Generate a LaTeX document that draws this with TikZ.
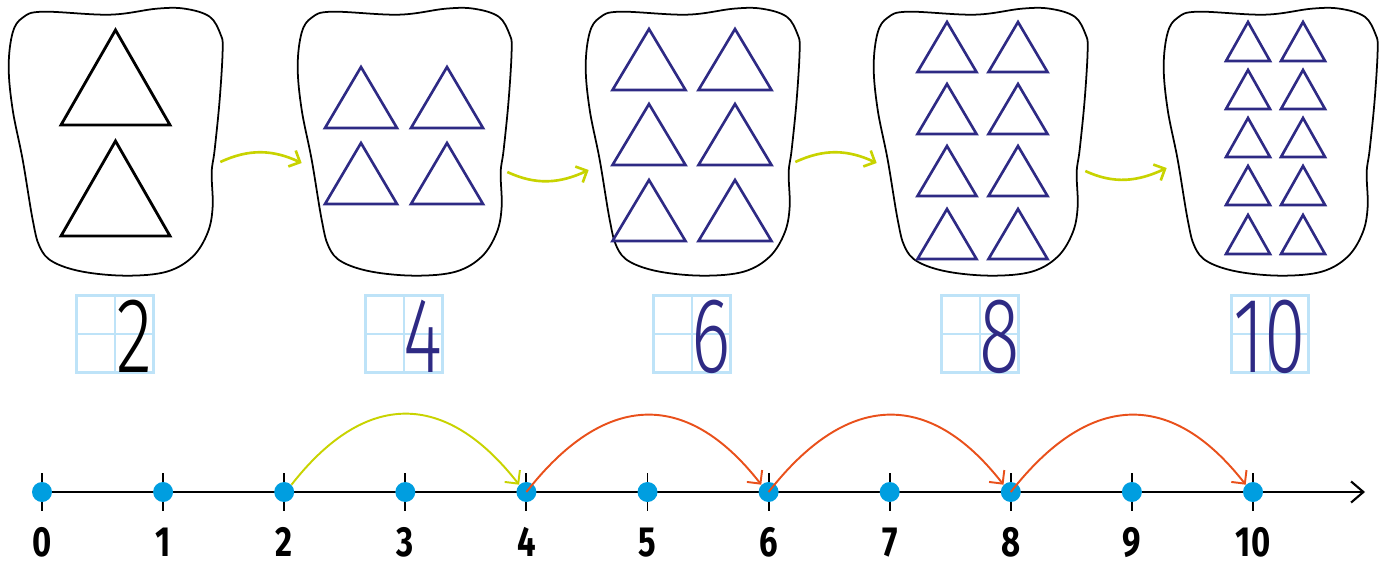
\documentclass[tikz,border=0pt]{standalone}
\usepackage{fontspec}
\usepackage{xcolor}
\usepackage{tikz}
\usetikzlibrary{arrows.meta, positioning}

\newfontfamily\handfont[FakeStretch=0.7]{Fira Sans Light}
\newfontfamily\axisfont[FakeStretch=0.78]{Fira Sans}

\definecolor{navy}{HTML}{2E2A84}
\definecolor{limegreen}{HTML}{C8D300}
\definecolor{jumporange}{HTML}{E9501B}
\definecolor{dotblue}{HTML}{009EE0}
\definecolor{gridblue}{HTML}{BEE3F8}

\begin{document}
\begin{tikzpicture}[
    x=0.02cm, y=-0.02cm,
    blobbox/.style={rectangle, minimum width=4.28cm, minimum height=5.36cm, inner sep=0pt},
    blobline/.style={draw=black, line width=1pt},
    blacktri/.style={draw=black, line width=1.6pt},
    navytri/.style={draw=navy, line width=1.5pt},
    gridbox/.style={rectangle, draw=gridblue, line width=1.4pt, minimum size=1.54cm, inner sep=0pt},
    gridline/.style={draw=gridblue, line width=1.4pt},
    hand/.style={inner sep=0pt, anchor=base, font=\handfont\fontsize{61}{61}\selectfont},
    bloblink/.style={draw=limegreen, line width=1.5pt, -{Straight Barb[length=5pt, width=10pt]}},
    hoparc/.style={line width=1.1pt, -{Straight Barb[length=5.5pt, width=11pt]}},
    axis/.style={draw=black, line width=1.2pt, -{Straight Barb[length=7pt, width=12pt]}},
    tick/.style={draw=black, line width=1.1pt},
    dot/.style={circle, fill=dotblue, minimum size=0.4cm, inner sep=0pt},
    numlabel/.style={inner sep=0pt, anchor=base, font=\axisfont\bfseries\fontsize{24}{24}\selectfont},
  ]
    \useasboundingbox (0,0) rectangle (1383,562);

    % Blobs
    \foreach \i/\x in {1/115,2/404,3/692,4/980,5/1270}
      \node[blobbox] (b\i) at (\x,142) {};
    \foreach \i in {1,...,5}
      \draw[blobline, shift={(b\i.north west)}] plot[smooth cycle, tension=0.6] coordinates {
        (35,4) (102,7) (149,1) (177,1) (202,9) (213,27) (215,42) (212,92) (207,142)
        (204,165) (205,199) (200,225) (185,249) (159,264) (119,268) (75,264) (45,254)
        (32,239) (25,212) (15,152) (5,102) (1,59) (5,25) (15,10)};

    % Triangles
    \foreach \ay in {30,141}
      \draw[blacktri] (115.5,\ay) -- ++(54.5,95) -- ++(-109,0) -- cycle;
    \foreach \cx in {361,447} \foreach \ay in {67,143}
      \draw[navytri] (\cx,\ay) -- ++(36,61) -- ++(-72,0) -- cycle;
    \foreach \cx in {649,735} \foreach \ay in {29,104,180}
      \draw[navytri] (\cx,\ay) -- ++(36.5,61) -- ++(-73,0) -- cycle;
    \foreach \cx in {947,1018} \foreach \ay in {22,84,146,209}
      \draw[navytri] (\cx,\ay) -- ++(29.5,50) -- ++(-59,0) -- cycle;
    \foreach \cx in {1248,1303} \foreach \ay in {22,70,118,166,215}
      \draw[navytri] (\cx,\ay) -- ++(22,39) -- ++(-44,0) -- cycle;

    % Arrows between blobs
    \draw[bloblink] ([shift={(-2,20)}]b1.east) to[out=25, in=155] ([shift={(5,21)}]b2.west);
    \draw[bloblink] ([shift={(-4,30)}]b2.east) to[out=-25, in=-155] ([shift={(4,28)}]b3.west);
    \draw[bloblink] ([shift={(-4,20)}]b3.east) to[out=25, in=155] ([shift={(4,21)}]b4.west);
    \draw[bloblink] ([shift={(-2,29)}]b4.east) to[out=-25, in=-155] ([shift={(4,26)}]b5.west);

    % Digit boxes
    \foreach \i in {1,...,5} {
      \node[gridbox, below=0.36cm of b\i] (g\i) {};
      \draw[gridline] (g\i.north) -- (g\i.south) (g\i.west) -- (g\i.east);
    }
    \foreach \i/\v/\c in {1/2/black,2/4/navy,3/6/navy,4/8/navy}
      \node[hand, text=\c] (h\i) at ([xshift=0.385cm, yshift=0.6pt]g\i.south) {\v};
    \node[hand, text=navy] (h5) at ([yshift=0.6pt]g5.south) {10};

    % Number line
    \coordinate (axstart) at (42,492);
    \coordinate (axend) at (1365,492);
    \draw[axis] (axstart) -- (axend);
    \foreach \i in {0,...,10} {
      \draw[tick] (42+121.1*\i,473) -- (42+121.1*\i,511);
      \node[dot] (d\i) at (42+121.1*\i,492) {};
      \node[numlabel] (n\i) at (42+121.1*\i,556) {\i};
    }

    % Jumps
    \draw[hoparc, draw=limegreen] (d2.north east) to[out=52, in=128, looseness=1.35] (d4.north west);
    \draw[hoparc, draw=jumporange] (d4.center) to[out=52, in=128, looseness=1.35] (d6.north west);
    \draw[hoparc, draw=jumporange] (d6.center) to[out=52, in=128, looseness=1.35] (d8.north west);
    \draw[hoparc, draw=jumporange] (d8.center) to[out=52, in=128, looseness=1.35] (d10.north west);

  \end{tikzpicture}
\end{document}
